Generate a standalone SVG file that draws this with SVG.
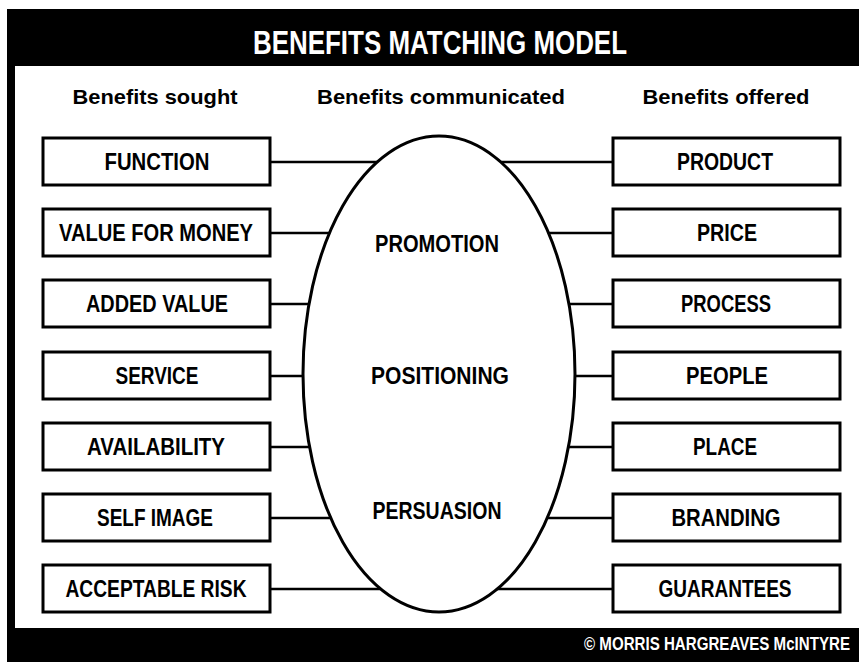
<svg xmlns="http://www.w3.org/2000/svg" width="859" height="662" viewBox="0 0 859 662">
  <style>
    .box { fill: #ffffff; stroke: #000000; stroke-width: 3; }
    .lbl { font-family: "Liberation Sans", Arial, sans-serif; font-weight: bold; font-size: 24px; fill: #000000; text-anchor: middle; }
    .head { font-family: "Liberation Sans", Arial, sans-serif; font-weight: bold; font-size: 21px; fill: #000000; text-anchor: middle; }
    .link { stroke: #000000; stroke-width: 2.5; fill: none; }
  </style>
  <!-- page frame -->
  <rect x="0" y="0" width="859" height="662" fill="#ffffff"/>
  <rect x="7" y="9" width="852" height="653" fill="#000000"/>
  <rect x="15" y="66" width="844" height="562" fill="#ffffff"/>
  <text x="440" y="54" text-anchor="middle" font-family="Liberation Sans, Arial, sans-serif" font-weight="bold" font-size="34" fill="#ffffff" textLength="374" lengthAdjust="spacingAndGlyphs">BENEFITS MATCHING MODEL</text>
  <text x="584" y="650" font-family="Liberation Sans, Arial, sans-serif" font-weight="bold" font-size="18" fill="#ffffff" textLength="266" lengthAdjust="spacingAndGlyphs">© MORRIS HARGREAVES McINTYRE</text>

  <!-- column headings -->
  <text class="head" x="155" y="104" textLength="165" lengthAdjust="spacingAndGlyphs">Benefits sought</text>
  <text class="head" x="441" y="104" textLength="248" lengthAdjust="spacingAndGlyphs">Benefits communicated</text>
  <text class="head" x="726" y="104" textLength="167" lengthAdjust="spacingAndGlyphs">Benefits offered</text>

  <!-- connectors -->
  <g id="connectors">
    <line class="link" x1="270" y1="162" x2="613" y2="162"/>
    <line class="link" x1="270" y1="233" x2="613" y2="233"/>
    <line class="link" x1="270" y1="304" x2="613" y2="304"/>
    <line class="link" x1="270" y1="376" x2="613" y2="376"/>
    <line class="link" x1="270" y1="447" x2="613" y2="447"/>
    <line class="link" x1="270" y1="518" x2="613" y2="518"/>
    <line class="link" x1="270" y1="589" x2="613" y2="589"/>
  </g>

  <!-- central ellipse -->
  <g id="communicated">
    <ellipse cx="439" cy="374" rx="136" ry="238" fill="#ffffff" stroke="#000000" stroke-width="3"/>
    <text class="lbl" x="437" y="252" textLength="124" lengthAdjust="spacingAndGlyphs">PROMOTION</text>
    <text class="lbl" x="440" y="384" textLength="138" lengthAdjust="spacingAndGlyphs">POSITIONING</text>
    <text class="lbl" x="437" y="519" textLength="129" lengthAdjust="spacingAndGlyphs">PERSUASION</text>
  </g>

  <!-- benefits sought -->
  <g id="function"><rect class="box" x="43" y="138" width="227" height="47"/><text class="lbl" x="157" y="170" textLength="105" lengthAdjust="spacingAndGlyphs">FUNCTION</text></g>
  <g id="value-for-money"><rect class="box" x="43" y="209" width="227" height="47"/><text class="lbl" x="156" y="241" textLength="194" lengthAdjust="spacingAndGlyphs">VALUE FOR MONEY</text></g>
  <g id="added-value"><rect class="box" x="43" y="280" width="227" height="47"/><text class="lbl" x="157" y="312" textLength="142" lengthAdjust="spacingAndGlyphs">ADDED VALUE</text></g>
  <g id="service"><rect class="box" x="43" y="352" width="227" height="47"/><text class="lbl" x="157" y="384" textLength="83" lengthAdjust="spacingAndGlyphs">SERVICE</text></g>
  <g id="availability"><rect class="box" x="43" y="423" width="227" height="47"/><text class="lbl" x="156" y="455" textLength="138" lengthAdjust="spacingAndGlyphs">AVAILABILITY</text></g>
  <g id="self-image"><rect class="box" x="43" y="494" width="227" height="47"/><text class="lbl" x="155" y="526" textLength="116" lengthAdjust="spacingAndGlyphs">SELF IMAGE</text></g>
  <g id="acceptable-risk"><rect class="box" x="43" y="565" width="227" height="47"/><text class="lbl" x="156" y="597" textLength="181" lengthAdjust="spacingAndGlyphs">ACCEPTABLE RISK</text></g>

  <!-- benefits offered -->
  <g id="product"><rect class="box" x="613" y="138" width="227" height="47"/><text class="lbl" x="725" y="170" textLength="96" lengthAdjust="spacingAndGlyphs">PRODUCT</text></g>
  <g id="price"><rect class="box" x="613" y="209" width="227" height="47"/><text class="lbl" x="727" y="241" textLength="60" lengthAdjust="spacingAndGlyphs">PRICE</text></g>
  <g id="process"><rect class="box" x="613" y="280" width="227" height="47"/><text class="lbl" x="726" y="312" textLength="90" lengthAdjust="spacingAndGlyphs">PROCESS</text></g>
  <g id="people"><rect class="box" x="613" y="352" width="227" height="47"/><text class="lbl" x="727" y="384" textLength="82" lengthAdjust="spacingAndGlyphs">PEOPLE</text></g>
  <g id="place"><rect class="box" x="613" y="423" width="227" height="47"/><text class="lbl" x="725" y="455" textLength="64" lengthAdjust="spacingAndGlyphs">PLACE</text></g>
  <g id="branding"><rect class="box" x="613" y="494" width="227" height="47"/><text class="lbl" x="726" y="526" textLength="109" lengthAdjust="spacingAndGlyphs">BRANDING</text></g>
  <g id="guarantees"><rect class="box" x="613" y="565" width="227" height="47"/><text class="lbl" x="725" y="597" textLength="133" lengthAdjust="spacingAndGlyphs">GUARANTEES</text></g>
</svg>
